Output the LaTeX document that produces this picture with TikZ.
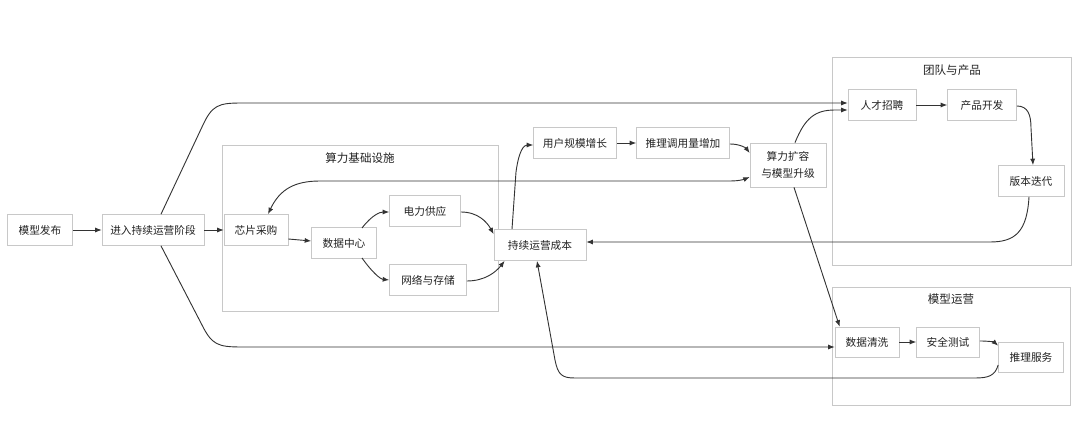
\documentclass[tikz,border=0pt]{standalone}
\usepackage{fontspec}
\setmainfont{Noto Sans CJK SC}
\usetikzlibrary{arrows.meta}
\usetikzlibrary{calc}
\definecolor{edgegray}{HTML}{333333}
\definecolor{boxgray}{HTML}{C8C8C8}
\definecolor{textgray}{HTML}{222222}
\newcommand{\pxu}{0.025cm}

\begin{document}
\begin{tikzpicture}
	[
	x=0.025cm, y=-0.025cm,
	> = {Latex[length=4.6pt,width=3.6pt]},
	box/.style = {draw=boxgray, fill=white, line width=0.5pt, inner sep=0pt, minimum height=31*\pxu, text=textgray, font=\fontsize{7.6}{11.6}\selectfont, align=center},
	group/.style = {draw=boxgray, fill=white, line width=0.5pt},
	grouptitle/.style = {text=textgray, font=\fontsize{8.2}{10}\selectfont},
	edge/.style = {->, draw=edgegray, line width=0.65pt}
	]
	\useasboundingbox (0,0) rectangle (1080,446);

	% groups
	\draw[group] (222,145) rectangle (498,311);
	\node[grouptitle] (jichut) at (360,158) {算力基础设施};
	\draw[group] (832,57) rectangle (1071,265);
	\node[grouptitle] (tuandult) at (952,70) {团队与产品};
	\draw[group] (832,287) rectangle (1070,405);
	\node[grouptitle] (yunyingt) at (951,299) {模型运营};

	% nodes
	\node[box, minimum width=65*\pxu] (fabu) at (40,230) {模型发布};
	\node[box, minimum width=102*\pxu] (jinru) at (153,230) {进入持续运营阶段};
	\node[box, minimum width=64*\pxu] (xinpian) at (256,230) {芯片采购};
	\node[box, minimum width=65*\pxu] (shuju) at (344,243) {数据中心};
	\node[box, minimum width=71*\pxu] (dianli) at (425,211) {电力供应};
	\node[box, minimum width=77*\pxu] (wangluo) at (428,280) {网络与存储};
	\node[box, minimum width=92*\pxu] (chengben) at (540,245) {持续运营成本};
	\node[box, minimum width=83*\pxu] (yonghu) at (575,143) {用户规模增长};
	\node[box, minimum width=93*\pxu] (tuili) at (683,143) {推理调用量增加};
	\node[box, minimum width=76*\pxu, minimum height=44*\pxu] (kuorong) at (788,165) {算力扩容\\与模型升级};
	\node[box, minimum width=68*\pxu] (rencai) at (882,105) {人才招聘};
	\node[box, minimum width=69*\pxu] (kaifa) at (982,105) {产品开发};
	\node[box, minimum width=66*\pxu] (diedai) at (1031,181) {版本迭代};
	\node[box, minimum width=64*\pxu, minimum height=30*\pxu] (qingxi) at (867,342) {数据清洗};
	\node[box, minimum width=63*\pxu, minimum height=30*\pxu] (ceshi) at (948,342) {安全测试};
	\node[box, minimum width=65*\pxu, minimum height=30*\pxu] (fuwu) at (1031,357) {推理服务};

	% edges
	\draw[edge] (fabu) -- (jinru);
	\draw[edge] (jinru) -- (xinpian);
	\draw[edge] ($(jinru.north)+(8,0)$) -- (202,127) .. controls (212,105) and (218,103) .. (242,103) -- ($(rencai.west)+(0,-2)$);
	\draw[edge] ($(jinru.south)+(8,0)$) -- (202,325) .. controls (212,345) and (218,347) .. (242,347) -- ($(qingxi.west)+(0,5)$);
	\draw[edge] ($(xinpian.east)+(0,9)$) -- ($(shuju.west)+(0,-2)$);
	\draw[edge] (362,228) .. controls (372,215) and (380,212) .. ($(dianli.west)+(0,1)$);
	\draw[edge] (362,258) .. controls (372,272) and (380,279) .. (wangluo.west);
	\draw[edge] ($(dianli.east)+(0,1)$) .. controls (478,212) and (487,222) .. ($(chengben.north west)+(0,5)$);
	\draw[edge] ($(wangluo.east)+(0,1)$) .. controls (485,281) and (496,272) .. ($(chengben.south west)+(11,0)$);
	\draw[edge] ($(chengben.north)+(-28,0)$) -- (516,172) .. controls (519,150) and (524,145) .. ($(yonghu.west)+(0,2)$);
	\draw[edge] (yonghu) -- (tuili);
	\draw[edge] ($(tuili.east)+(0,1)$) .. controls (740,144) and (746,148) .. ($(kuorong.west)+(0,-12)$);
	\draw[edge, <->] ($(xinpian.north)+(12,0)$) .. controls (280,189) and (295,181) .. (320,181) -- (730,181) .. controls (740,181) and (745,179) .. ($(kuorong.west)+(0,12)$);
	\draw[edge] ($(kuorong.north)+(7,0)$) .. controls (805,118) and (815,110) .. (835,110) -- ($(rencai.west)+(0,5)$);
	\draw[edge] ($(kuorong.south)+(6,0)$) -- ($(qingxi.north west)+(5,0)$);
	\draw[edge] (rencai) -- (kaifa);
	\draw[edge] ($(kaifa.east)+(0,1)$) .. controls (1028,106) and (1031,115) .. (1031,128) -- ($(diedai.north)+(2,0)$);
	\draw[edge] ($(diedai.south)+(-2,0)$) .. controls (1027,232) and (1015,242) .. (990,242) -- ($(chengben.east)+(0,-3)$);
	\draw[edge] (qingxi) -- (ceshi);
	\draw[edge] ($(ceshi.east)+(0,-1)$) .. controls (988,341) and (994,342) .. ($(fuwu.north west)+(0,4)$);
	\draw[edge] ($(fuwu.west)+(0,8)$) .. controls (995,376) and (988,378) .. (975,378) -- (575,378) .. controls (562,378) and (558,375) .. (555,360) -- ($(chengben.south)+(-3,0)$);
\end{tikzpicture}
\end{document}
